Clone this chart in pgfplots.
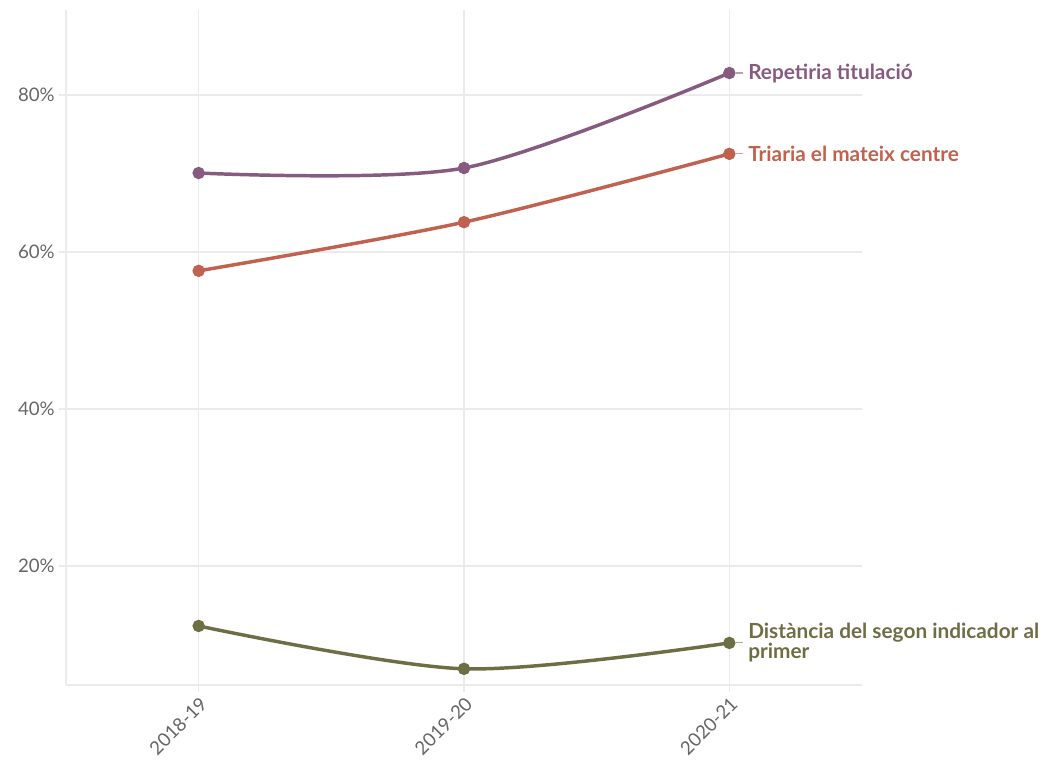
\documentclass[border=0pt]{standalone}
\usepackage{pgfplots}
\pgfplotsset{compat=1.18}
\usepackage{fontspec}
\setmainfont{Lato}
\definecolor{cPur}{HTML}{875A7F}
\definecolor{cRed}{HTML}{C0624F}
\definecolor{cOli}{HTML}{6E6E45}
\definecolor{cGrid}{HTML}{EBEBEB}
\definecolor{cTick}{HTML}{666666}
\begin{document}
\begin{tikzpicture}[x=0.75pt,y=0.75pt]
\path (-66,-77) rectangle (977,685);
\begin{axis}[
  at={(0,0)}, anchor=south west,
  scale only axis, width=597pt, height=506.25pt,
  xmin=-0.5, xmax=2.5, ymin=4.84, ymax=90.83,
  xtick={0,1,2}, xticklabels={2018-19,2019-20,2020-21},
  ytick={20,40,60,80}, yticklabels={20\%,40\%,60\%,80\%},
  axis x line*=bottom, axis y line*=left,
  axis line style={cGrid, line width=1pt},
  grid=major, grid style={cGrid, line width=1pt},
  tick style={cGrid, line width=1pt}, tick align=outside, major tick length=5pt,
  ticklabel style={font=\fontsize{14}{16}\selectfont, text=cTick},
  x tick label style={rotate=45, anchor=north east, inner sep=2pt},
  /pgf/number format/assume math mode=true,
  clip=false,
  every axis plot/.append style={line width=2.6pt, smooth, mark=*, mark size=3.3pt},
]
\addplot[cPur, mark options={fill=cPur}] coordinates {(0,70.06) (1,70.7) (2,82.8)};
\addplot[cRed, mark options={fill=cRed}] coordinates {(0,57.6) (1,63.8) (2,72.5)};
\addplot[cOli, mark options={fill=cOli}] coordinates {(0,12.36) (1,6.9) (2,10.2)};
\begin{scope}[font=\fontsize{15.6}{15}\selectfont\bfseries]
\node[anchor=west, text=cPur, inner sep=0pt, xshift=14pt] at (axis cs:2,82.8) {Repetiria titulació};
\node[anchor=west, text=cRed, inner sep=0pt, xshift=14pt] at (axis cs:2,72.5) {Triaria el mateix centre};
\node[anchor=west, text=cOli, inner sep=0pt, xshift=14pt, align=left] at (axis cs:2,10.2) {Distància del segon indicador al\\[0pt]primer};
\draw[cPur!60, line width=0.8pt] ([xshift=5pt]axis cs:2,82.8) -- ([xshift=10pt]axis cs:2,82.8);
\draw[cRed!60, line width=0.8pt] ([xshift=5pt]axis cs:2,72.5) -- ([xshift=10pt]axis cs:2,72.5);
\draw[cOli!60, line width=0.8pt] ([xshift=5pt]axis cs:2,10.2) -- ([xshift=10pt]axis cs:2,10.2);
\end{scope}
\end{axis}
\end{tikzpicture}
\end{document}
